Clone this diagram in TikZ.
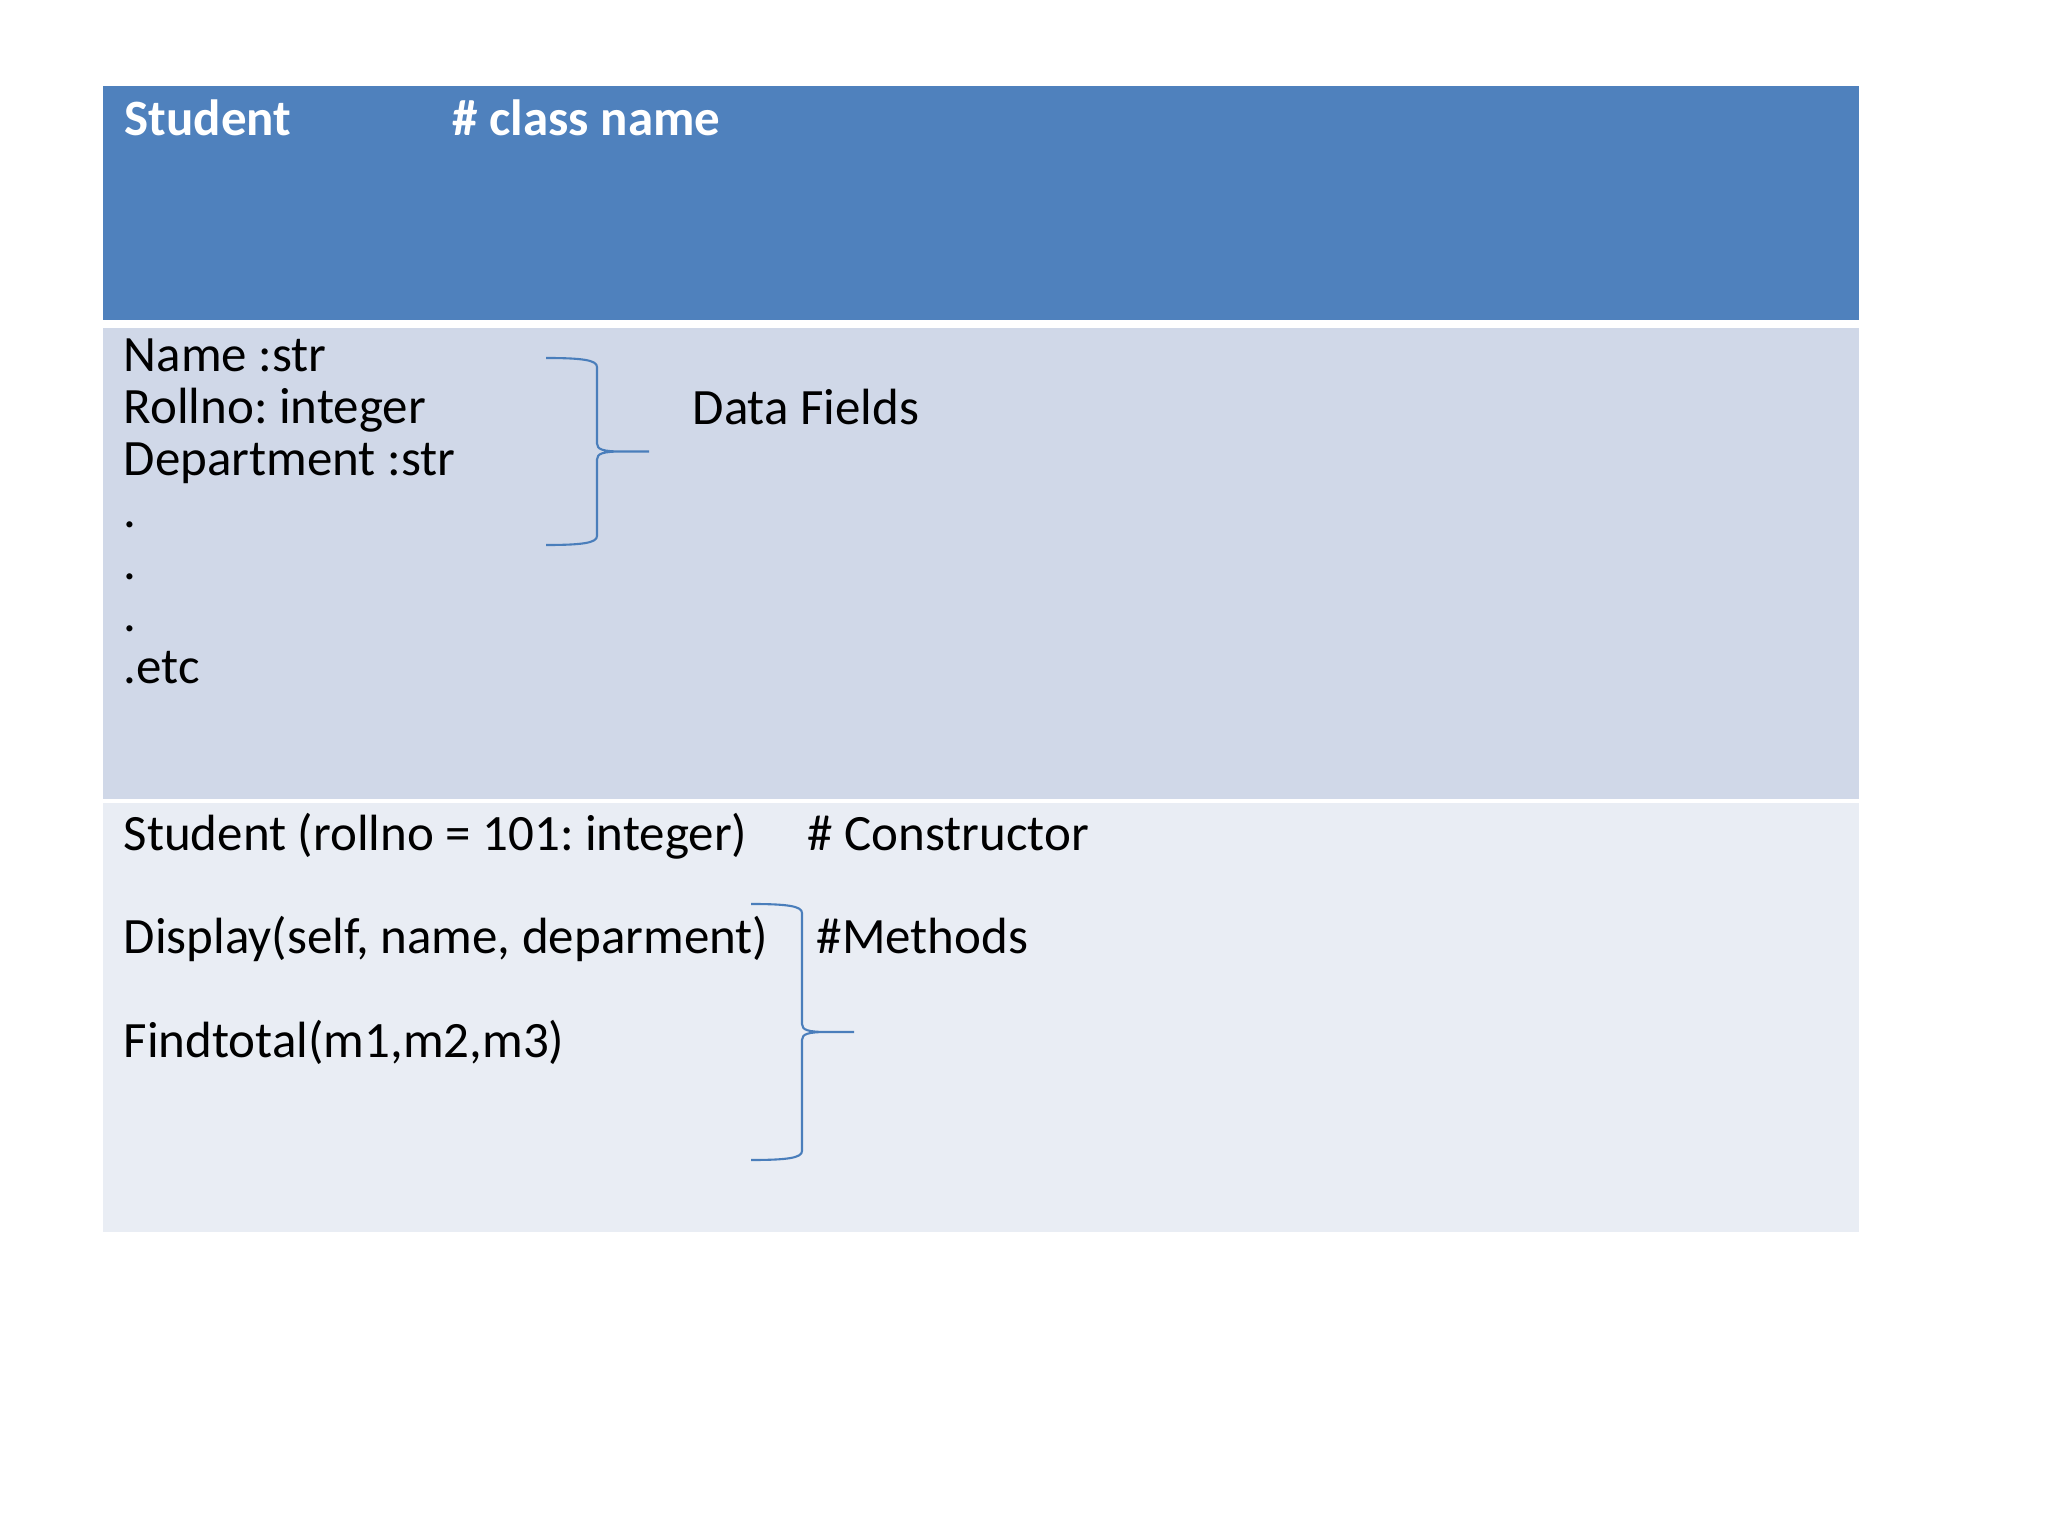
\documentclass[tikz,border=0pt]{standalone}
\usepackage{fontspec}
\setmainfont{Carlito}
\frenchspacing
\definecolor{headfill}{RGB}{79,129,189}
\definecolor{fieldfill}{RGB}{208,216,232}
\definecolor{methfill}{RGB}{233,237,244}
\definecolor{bracecol}{RGB}{74,126,187}
\newcommand{\membrace}[3]{%
  \begin{scope}[shift={(#1,#2)}]
    \draw[bracecol, line width=0.6pt]
      (0,0) .. controls (0.36,0) and (0.51,-0.02) .. (0.51,-0.09)
      -- (0.51,{-#3/2+0.08}) .. controls (0.51,{-#3/2+0.02}) and (0.57,{-#3/2}) .. (0.76,{-#3/2})
      -- (1.03,{-#3/2}) -- (0.76,{-#3/2})
      .. controls (0.57,{-#3/2}) and (0.51,{-#3/2-0.02}) .. (0.51,{-#3/2-0.08})
      -- (0.51,{-#3+0.09}) .. controls (0.51,{-#3+0.02}) and (0.36,-#3) .. (0,-#3);
  \end{scope}}

\begin{document}
\begin{tikzpicture}[
  txt/.style={anchor=base west, inner sep=0pt, align=left,
    font=\fontsize{14.5}{14.75}\selectfont},
  headtxt/.style={txt, text=white, font=\fontsize{14.5}{14.75}\selectfont\bfseries},
]
\useasboundingbox (0,0) rectangle (20.48,-15.36);
% ---- Rows ----
\fill[headfill]  (1.03,-0.86) rectangle (18.59,-3.20);
\fill[fieldfill] (1.03,-3.28) rectangle (18.59,-7.99);
\fill[methfill]  (1.03,-8.03) rectangle (18.59,-12.32);

% ---- Class name ----
\node[headtxt] (cname) at (1.24,-1.36) {Student};
\node[headtxt] (cnote) at (4.52,-1.36) {\# class name};

% ---- Data fields (base = last line) ----
\node[txt] (fields) at (1.23,-6.83)
  {Name :str\\Rollno: integer\\Department :str\\.\\.\\.\\.etc};
\membrace{5.46}{-3.58}{1.87}
\node[txt] (fnote) at (6.92,-4.24) {Data Fields};

% ---- Constructor and methods ----
\node[txt] (ctor)  at (1.23,-8.50)  {Student (rollno = 101: integer)};
\node[txt] (cnote2) at (8.07,-8.50) {\# Constructor};
\node[txt] (disp)  at (1.23,-9.53)  {Display(self, name, deparment)};
\node[txt] (total) at (1.23,-10.57) {Findtotal(m1,m2,m3)};
\membrace{7.51}{-9.04}{2.56}
\node[txt] (mnote) at (8.16,-9.53)  {\#Methods};
\end{tikzpicture}
\end{document}
